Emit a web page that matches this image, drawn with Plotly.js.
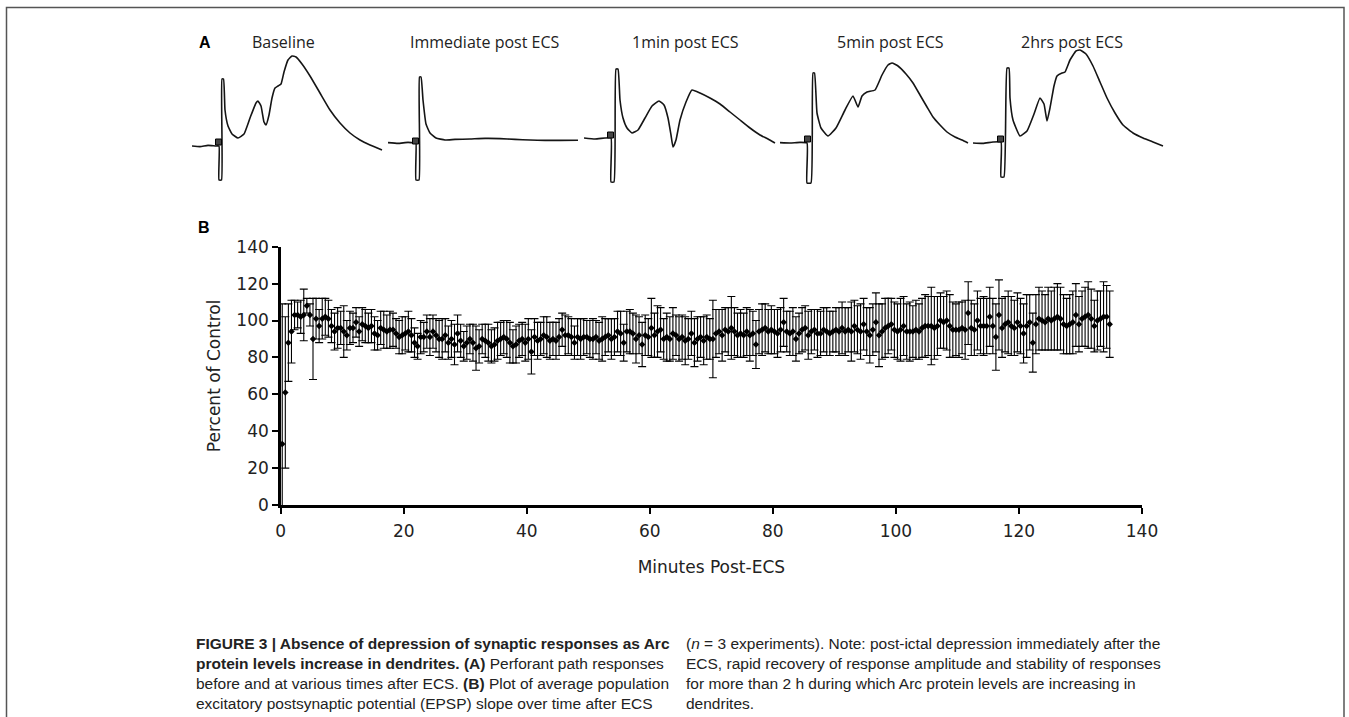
<!DOCTYPE html>
<html>
<head>
<meta charset="utf-8">
<script src="https://cdn.plot.ly/plotly-3.0.1.min.js"></script>
<style>html,body{margin:0;padding:0;background:#fff;}#chart{width:1349px;height:717px;}</style>
</head>
<body>
<div id="chart"></div>
<script>
// ---------- Panel B data: EPSP slope (% of control) vs minutes post-ECS ----------
const minutes = [
0.25,0.75,1.25,1.75,2.25,2.75,3.25,3.75,4.25,4.75,
5.25,5.75,6.25,6.75,7.25,7.75,8.25,8.75,9.25,9.75,
10.25,10.75,11.25,11.75,12.25,12.75,13.25,13.75,14.25,14.75,
15.25,15.75,16.25,16.75,17.25,17.75,18.25,18.75,19.25,19.75,
20.25,20.75,21.25,21.75,22.25,22.75,23.25,23.75,24.25,24.75,
25.25,25.75,26.25,26.75,27.25,27.75,28.25,28.75,29.25,29.75,
30.25,30.75,31.25,31.75,32.25,32.75,33.25,33.75,34.25,34.75,
35.25,35.75,36.25,36.75,37.25,37.75,38.25,38.75,39.25,39.75,
40.25,40.75,41.25,41.75,42.25,42.75,43.25,43.75,44.25,44.75,
45.25,45.75,46.25,46.75,47.25,47.75,48.25,48.75,49.25,49.75,
50.25,50.75,51.25,51.75,52.25,52.75,53.25,53.75,54.25,54.75,
55.25,55.75,56.25,56.75,57.25,57.75,58.25,58.75,59.25,59.75,
60.25,60.75,61.25,61.75,62.25,62.75,63.25,63.75,64.25,64.75,
65.25,65.75,66.25,66.75,67.25,67.75,68.25,68.75,69.25,69.75,
70.25,70.75,71.25,71.75,72.25,72.75,73.25,73.75,74.25,74.75,
75.25,75.75,76.25,76.75,77.25,77.75,78.25,78.75,79.25,79.75,
80.25,80.75,81.25,81.75,82.25,82.75,83.25,83.75,84.25,84.75,
85.25,85.75,86.25,86.75,87.25,87.75,88.25,88.75,89.25,89.75,
90.25,90.75,91.25,91.75,92.25,92.75,93.25,93.75,94.25,94.75,
95.25,95.75,96.25,96.75,97.25,97.75,98.25,98.75,99.25,99.75,
100.25,100.75,101.25,101.75,102.25,102.75,103.25,103.75,104.25,104.75,
105.25,105.75,106.25,106.75,107.25,107.75,108.25,108.75,109.25,109.75,
110.25,110.75,111.25,111.75,112.25,112.75,113.25,113.75,114.25,114.75,
115.25,115.75,116.25,116.75,117.25,117.75,118.25,118.75,119.25,119.75,
120.25,120.75,121.25,121.75,122.25,122.75,123.25,123.75,124.25,124.75,
125.25,125.75,126.25,126.75,127.25,127.75,128.25,128.75,129.25,129.75,
130.25,130.75,131.25,131.75,132.25,132.75,133.25,133.75,134.25,134.75
];
const percentOfControl = [
33,61,88,94,103,103,102,103,108,103,
90,101,97,101,102,101,97,94,96,96,
94,92,96,96,99,94,98,97,96,97,
93,92,96,95,94,95,95,93,91,92,
93,94,92,88,86,91,91,94,91,94,
92,90,90,92,88,90,87,93,89,86,
88,90,88,85,86,90,89,88,86,87,
89,90,91,90,88,86,87,89,90,88,
90,83,91,89,90,92,91,89,90,89,
91,95,92,92,91,88,91,90,91,91,
90,90,91,89,90,91,92,90,91,94,
93,88,94,94,93,90,92,87,92,91,
96,92,94,95,90,91,90,93,92,90,
91,89,90,93,88,90,91,89,91,90,
90,93,94,92,95,94,96,94,92,93,
92,94,92,93,87,94,95,96,94,95,
94,93,95,99,94,93,94,90,93,95,
96,92,94,95,93,93,95,94,93,94,
95,94,96,94,95,94,97,95,94,98,
94,92,95,99,92,94,96,97,98,95,
94,95,97,94,94,94,95,94,96,97,
97,97,96,97,100,99,100,97,95,95,
95,96,95,104,96,95,100,97,97,97,
102,97,91,103,96,98,99,97,96,99,
97,93,97,99,88,98,101,100,99,101,
100,101,102,101,98,97,98,99,103,98,
101,102,103,101,97,100,101,102,102,98
];
const errorSEM = [
76,41,21,17,8,7,9,14,4,6,
22,11,9,11,10,10,9,10,11,9,
14,8,9,8,8,8,9,9,8,9,
9,8,9,10,9,10,9,8,9,10,
9,11,9,8,7,9,8,9,10,9,
9,10,11,9,9,10,11,10,9,8,
9,8,10,12,9,8,9,10,9,9,
10,9,9,10,11,9,10,9,9,10,
11,12,10,10,9,10,11,10,9,10,
10,9,11,10,10,9,10,11,10,9,
10,11,9,10,12,10,9,11,10,11,
12,10,11,12,11,13,10,12,11,10,
16,12,14,12,11,13,12,14,11,12,
12,13,11,12,13,12,11,13,12,11,
21,13,12,14,12,13,17,13,12,13,
12,13,14,12,13,12,14,13,12,13,
12,13,12,13,11,12,13,12,11,12,
12,13,12,11,13,12,12,13,12,11,
12,13,14,13,12,16,14,13,15,14,
13,15,14,16,17,15,16,15,14,15,
15,17,16,15,16,14,16,15,16,17,
16,21,17,16,15,14,16,17,15,14,
15,14,16,17,15,14,16,15,16,15,
16,15,18,19,16,15,17,16,15,16,
15,16,17,15,16,16,17,16,15,17,
16,17,18,17,16,15,16,17,17,15,
15,16,18,16,14,16,15,19,17,18
];
const xTicks = [0,20,40,60,80,100,120,140];
const yTicks = [0,20,40,60,80,100,120,140];

// ---------- Panel A data: perforant path field responses (ms, mV) ----------
const sweepTitles = ["Baseline","Immediate post ECS","1min post ECS","5min post ECS","2hrs post ECS"];
const baselineT = [0,0.8,1.6,2.4,2.7,2.7,2.95,3.0,3.15,3.3,3.6,4.0,4.6,5.2,5.8,6.4,6.6,6.9,7.2,7.4,7.7,8.0,8.3,8.6,8.9,9.2,9.6,10.0,10.4,11.0,11.8,12.8,13.8,14.8,15.8,16.8,17.8,19.0];
const baselineV = [0,-0.03,0.03,0,0,-1.7,-1.7,3.35,3.35,1.8,1.0,0.6,0.4,0.6,1.4,2.15,2.25,2.0,1.2,1.05,1.55,2.4,2.9,3.0,3.1,3.7,4.3,4.5,4.45,4.1,3.5,2.65,1.8,1.15,0.65,0.3,0.05,-0.2];
const immediateT = [0,1.0,2.0,2.7,2.8,2.8,3.1,3.15,3.3,3.5,3.8,4.2,4.8,5.7,6.7,8.2,9.7,11.2,12.7,14.2,15.7,17.2,19.0];
const immediateV = [0.17,0.13,0.18,0.15,0.15,-1.7,-1.7,3.45,3.45,2.3,1.1,0.65,0.4,0.3,0.33,0.35,0.38,0.37,0.33,0.3,0.28,0.28,0.29];
const oneMinT = [0,1.1,2.1,2.7,2.7,3.0,3.2,3.4,3.6,3.9,4.3,4.8,5.4,6.1,6.8,7.5,8.0,8.4,8.7,8.9,9.2,9.6,10.2,10.8,11.6,12.6,13.6,14.6,15.6,16.6,17.6,18.4,19.1];
const oneMinV = [0.4,0.35,0.4,0.4,-1.8,-1.8,3.85,3.85,2.3,1.4,0.9,0.65,0.8,1.4,2.0,2.25,2.05,1.4,0.55,-0.05,0.3,1.3,2.2,2.8,2.65,2.4,2.1,1.7,1.3,0.9,0.55,0.35,0.15];
const fiveMinT = [0,1.0,2.0,2.7,2.7,3.1,3.3,3.45,3.7,4.1,4.8,5.6,6.5,7.3,7.8,8.2,8.7,9.5,10.2,10.8,11.2,11.8,12.6,13.3,14.0,14.7,15.3,16.0,16.7,17.5,18.2,18.8];
const fiveMinV = [0.17,0.15,0.18,0.15,-1.85,-1.85,3.65,3.65,1.65,0.9,0.5,0.9,1.8,2.5,1.95,2.5,2.7,2.8,3.55,4.05,4.15,4.0,3.6,3.15,2.55,1.95,1.45,1.05,0.7,0.45,0.3,0.15];
const twoHrT = [0,1.0,2.0,2.8,2.8,3.1,3.4,3.6,3.7,4.0,4.7,5.4,6.1,6.7,7.1,7.4,7.7,8.1,8.4,8.9,9.2,9.7,10.3,10.7,11.3,12.0,12.7,13.4,14.2,15.0,16.0,17.0,18.0,19.0];
const twoHrV = [0.15,0.13,0.2,0.2,-1.55,-1.55,3.9,3.9,2.4,1.3,0.5,0.75,1.6,2.4,2.1,1.25,1.9,3.0,3.5,3.65,3.7,4.3,4.75,4.8,4.6,4.0,3.2,2.4,1.65,1.05,0.65,0.4,0.2,0.0];
const stimT = [2.65,2.75,2.65,2.75,2.75];
const stimV = [0.2,0.25,0.55,0.35,0.35];

const captionLeft = [
  "<b>FIGURE 3 | Absence of depression of synaptic responses as Arc</b>",
  "<b>protein levels increase in dendrites. (A)</b> Perforant path responses",
  "before and at various times after ECS. <b>(B)</b> Plot of average population",
  "excitatory postsynaptic potential (EPSP) slope over time after ECS"
];
const captionRight = [
  "(<i>n</i> = 3 experiments). Note: post-ictal depression immediately after the",
  "ECS, rapid recovery of response amplitude and stability of responses",
  "for more than 2 h during which Arc protein levels are increasing in",
  "dendrites."
];

// ---------- layout helpers (pixel -> paper fraction) ----------
const W = 1349, H = 717;
const fx = p => p / W;
const fy = p => 1 - p / H;

const sweeps = [[baselineT, baselineV],[immediateT, immediateV],[oneMinT, oneMinV],[fiveMinT, fiveMinV],[twoHrT, twoHrV]];
const sweepLeft = [192, 388, 584, 780, 973];
const sweepCenter = [283, 485, 685, 890, 1072];

const traces = [];
traces.push({
  type: 'scatter', mode: 'markers', x: minutes, y: percentOfControl,
  xaxis: 'x', yaxis: 'y',
  marker: {symbol: 'diamond', size: 5, color: '#000'},
  error_y: {type: 'data', array: errorSEM, visible: true, color: '#000', thickness: 1.1, width: 4},
  cliponaxis: true, hoverinfo: 'x+y'
});

const axisFont = {size: 17, color: '#222', family: 'DejaVu Sans, Verdana, sans-serif'};
const layout = {
  width: W, height: H,
  margin: {l: 0, r: 0, t: 0, b: 0},
  paper_bgcolor: '#fff', plot_bgcolor: 'rgba(0,0,0,0)',
  showlegend: false,
  font: {family: 'DejaVu Sans, Verdana, sans-serif', color: '#222'},
  xaxis: {
    domain: [fx(280.7), fx(1142)], range: [0, 140], tickvals: xTicks, ticktext: xTicks.map(String),
    showline: true, linecolor: '#000', linewidth: 2.5, ticks: 'outside', ticklen: 6, tickwidth: 2, tickcolor: '#000',
    showgrid: false, zeroline: false, tickfont: axisFont, ticklabelstandoff: 3,
    title: {text: 'Minutes Post-ECS', font: axisFont, standoff: 21},
    anchor: 'y', fixedrange: true
  },
  yaxis: {
    domain: [fy(505), fy(246.7)], range: [0, 140], tickvals: yTicks, ticktext: yTicks.map(String),
    showline: true, linecolor: '#000', linewidth: 2.5, ticks: 'outside', ticklen: 6, tickwidth: 2, tickcolor: '#000',
    showgrid: false, zeroline: false, tickfont: axisFont,
    title: {text: 'Percent of Control', font: axisFont, standoff: 12},
    anchor: 'x', fixedrange: true
  },
  yaxis2: {domain: [fy(200), fy(40)], range: [-2.7, 5.3], visible: false, fixedrange: true},
  annotations: [],
  shapes: [
    {type: 'rect', xref: 'paper', yref: 'paper', x0: fx(6.5), x1: fx(1344), y0: fy(725), y1: fy(7.5),
     line: {color: '#555', width: 1.5}, fillcolor: 'rgba(0,0,0,0)', layer: 'below'}
  ]
};

sweeps.forEach((s, i) => {
  const ax = 'x' + (i + 2);
  const key = 'xaxis' + (i + 2);
  layout[key] = {domain: [fx(sweepLeft[i]), fx(sweepLeft[i] + 200)], range: [0, 20], visible: false, anchor: 'y2', fixedrange: true};
  traces.push({type: 'scatter', mode: 'lines', x: s[0], y: s[1], xaxis: ax, yaxis: 'y2',
    line: {color: '#151515', width: 1.6, shape: 'spline', smoothing: 0.4}, hoverinfo: 'skip'});
  traces.push({type: 'scatter', mode: 'markers', x: [stimT[i]], y: [stimV[i]], xaxis: ax, yaxis: 'y2',
    marker: {symbol: 'square', size: 6, color: '#444', line: {color: '#000', width: 1}}, hoverinfo: 'skip'});
  layout.annotations.push({xref: 'paper', yref: 'paper', x: fx(sweepCenter[i]), y: fy(42), xanchor: 'center', yanchor: 'middle',
    text: sweepTitles[i], showarrow: false, font: {family: 'Open Sans, sans-serif', size: 16, color: '#222'}});
});

layout.annotations.push({xref: 'paper', yref: 'paper', x: fx(197), y: fy(43), xanchor: 'left', yanchor: 'middle',
  text: '<b>A</b>', showarrow: false, font: {family: 'Liberation Sans, Arial, sans-serif', size: 16, color: '#000'}});
layout.annotations.push({xref: 'paper', yref: 'paper', x: fx(196), y: fy(228), xanchor: 'left', yanchor: 'middle',
  text: '<b>B</b>', showarrow: false, font: {family: 'Liberation Sans, Arial, sans-serif', size: 16, color: '#000'}});

captionLeft.forEach((t, i) => {
  layout.annotations.push({xref: 'paper', yref: 'paper', x: fx(194), y: fy(643 + 20 * i), xanchor: 'left', yanchor: 'middle',
    text: t, showarrow: false, font: {family: 'Liberation Sans Narrow, Arial Narrow, Liberation Sans, sans-serif', size: 15.5, color: '#222'}});
});
captionRight.forEach((t, i) => {
  layout.annotations.push({xref: 'paper', yref: 'paper', x: fx(684), y: fy(643 + 20 * i), xanchor: 'left', yanchor: 'middle',
    text: t, showarrow: false, font: {family: 'Liberation Sans Narrow, Arial Narrow, Liberation Sans, sans-serif', size: 15.5, color: '#222'}});
});

Plotly.newPlot('chart', traces, layout, {displayModeBar: false, staticPlot: true});
</script>
</body>
</html>
